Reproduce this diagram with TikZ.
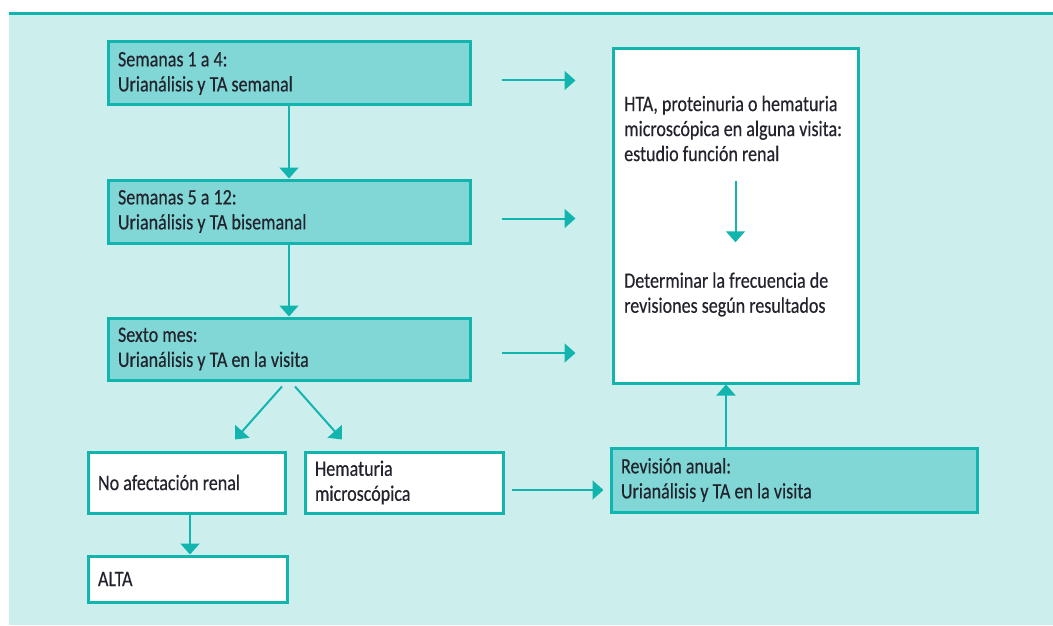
\documentclass[tikz,border=0pt]{standalone}
\usepackage{fontspec}
\setmainfont[FakeStretch=0.82, FakeBold=0.4]{Carlito}
\usetikzlibrary{arrows.meta}
\definecolor{panel}{RGB}{204,239,238}
\definecolor{teal}{RGB}{18,181,174}
\definecolor{boxfill}{RGB}{128,215,214}
\definecolor{ink}{RGB}{35,35,45}
\tikzset{
  every node/.style={text=ink, font=\fontsize{22}{25}\selectfont},
  stage/.style={draw=teal, line width=3pt, fill=boxfill, align=flush left,
    inner xsep=10pt, inner ysep=0pt},
  result/.style={draw=teal, line width=3pt, fill=white, align=flush left,
    inner xsep=10pt, inner ysep=0pt},
  label/.style={align=left, inner sep=0pt, anchor=west},
  arr/.style={draw=teal, line width=2pt, -{Triangle[width=19pt,length=11pt]}},
}
\begin{document}
\begin{tikzpicture}[x=1pt, y=-1pt]
\useasboundingbox (0,0) rectangle (1053,626);
% background panel with its top rule
\fill[panel] (9,13) rectangle (1053,625);
\draw[teal, line width=3pt] (9,13.5) -- (1053,13.5);

% left column: follow-up stages
\node[stage, minimum width=362pt, minimum height=63pt, text width=342pt] (b1) at (289,73.5)
  {Semanas 1 a 4:\\Urianálisis y TA semanal};
\node[stage, minimum width=362pt, minimum height=63pt, text width=342pt] (b2) at (289,211.5)
  {Semanas 5 a 12:\\Urianálisis y TA bisemanal};
\node[stage, minimum width=362pt, minimum height=62pt, text width=342pt] (b3) at (289,349)
  {Sexto mes:\\Urianálisis y TA en la visita};

% outcomes after six months
\node[result, minimum width=197pt, minimum height=61pt, text width=177pt] (no) at (186.5,482.5)
  {No afectación renal};
\node[result, minimum width=198pt, minimum height=61pt, text width=178pt] (hem) at (404,482.5)
  {Hematuria\\microscópica};
\node[result, minimum width=199pt, minimum height=46pt, text width=179pt] (alta) at (187.5,579)
  {ALTA};
\node[stage, minimum width=366pt, minimum height=64pt, text width=346pt] (rev) at (794,480)
  {Revisión anual:\\Urianálisis y TA en la visita};

% right panel: renal study
\node[result, minimum width=245pt, minimum height=334pt] (big) at (735.5,216) {};
\node[label] (t1) at (624,128.5)
  {HTA, proteinuria o hematuria\\microscópica en alguna visita:\\estudio función renal};
\node[label] (t2) at (624,294.5)
  {Determinar la frecuencia de\\revisiones según resultados};

% connectors
\draw[arr] (b1) -- (b2);
\draw[arr] (b2) -- (b3);
\draw[arr] ([shift={(30pt,-7pt)}]b1.east) -- ([shift={(-36pt,-7pt)}]b1.east -| big.west);
\draw[arr] ([shift={(30pt,-7pt)}]b2.east) -- ([shift={(-36pt,-7pt)}]b2.east -| big.west);
\draw[arr] ([shift={(30pt,-4pt)}]b3.east) -- ([shift={(-36pt,-4pt)}]b3.east -| big.west);
\draw[arr] ([shift={(-7pt,-5pt)}]b3.south) -- ([shift={(-54pt,-58pt)}]b3.south);
\draw[arr] ([shift={(6pt,-5pt)}]b3.south) -- ([shift={(53pt,-58pt)}]b3.south);
\draw[arr] ([xshift=3.5pt]no.south) -- ([xshift=3.5pt]no.south |- alta.north);
\draw[arr] ([shift={(7pt,-7.5pt)}]hem.east) -- ([xshift=-6pt,yshift=-7.5pt]hem.east -| rev.west);
\draw[arr] ([xshift=-9.5pt]big.south |- rev.north) -- ([xshift=-9.5pt]big.south);
\draw[arr] ([yshift=-20pt]t1.south -| big.center) -- ([yshift=30pt]t2.north -| big.center);
\end{tikzpicture}
\end{document}
